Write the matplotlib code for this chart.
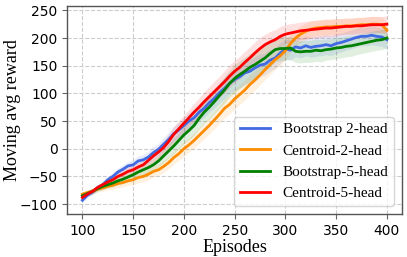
import matplotlib
matplotlib.use('Agg')
import matplotlib.pyplot as plt
import numpy as np

episodes = list(range(100, 401, 5))

boot2 = [-93, -84, -78, -70, -65, -56, -50, -42, -37, -31,
         -29, -22, -20, -15, -7, -1, 8, 17, 27, 34,
         42, 50, 56, 66, 73, 83, 91, 101, 109, 118,
         125, 130, 137, 140, 146, 151, 153, 160, 164, 173,
         180, 178, 184, 182, 186, 183, 185, 186, 188, 186,
         190, 192, 195, 198, 201, 203, 203, 205, 203, 202,
         197]
cent2 = [-82, -79, -76, -73, -71, -68, -66, -63, -61, -58,
         -56, -52, -50, -46, -41, -38, -32, -25, -16, -9,
         0, 7, 15, 24, 33, 42, 52, 62, 73, 80,
         90, 98, 106, 116, 124, 133, 143, 152, 161, 168,
         177, 190, 200, 207, 212, 216, 218, 219, 220, 220,
         221, 221, 222, 222, 223, 224, 224, 225, 225, 224,
         214]
boot5 = [-85, -81, -77, -72, -68, -65, -62, -58, -55, -51,
         -47, -42, -38, -34, -29, -22, -13, -4, 5, 15,
         25, 33, 42, 55, 66, 75, 85, 96, 106, 118,
         127, 134, 140, 147, 152, 158, 164, 172, 179, 181,
         181, 182, 176, 175, 176, 176, 178, 177, 179, 180,
         182, 183, 185, 186, 188, 190, 192, 194, 196, 197,
         200]
cent5 = [-88, -82, -77, -70, -65, -60, -56, -50, -46, -41,
         -38, -33, -29, -21, -13, -6, 2, 13, 26, 36,
         46, 56, 66, 75, 85, 94, 103, 112, 121, 131,
         140, 147, 156, 164, 173, 181, 188, 193, 197, 203,
         207, 209, 211, 213, 214, 215, 216, 217, 218, 218,
         219, 220, 221, 221, 222, 222, 223, 224, 224, 224,
         225]

boot2_std = [4, 4, 5, 5, 6, 6, 7, 7, 8, 8,
             9, 9, 10, 10, 11, 11, 12, 13, 14, 14,
             15, 15, 16, 16, 17, 17, 18, 18, 19, 19,
             20, 20, 20, 20, 20, 20, 20, 20, 19, 19,
             18, 18, 18, 18, 18, 18, 18, 18, 18, 18,
             18, 17, 17, 17, 17, 17, 17, 17, 17, 17,
             17]
cent2_std = [4, 4, 5, 5, 6, 6, 7, 7, 8, 8,
             9, 9, 10, 10, 10, 10, 11, 11, 12, 12,
             13, 13, 14, 14, 15, 15, 16, 16, 17, 17,
             18, 18, 18, 18, 18, 18, 18, 18, 17, 17,
             16, 16, 15, 15, 15, 15, 14, 14, 14, 14,
             14, 14, 14, 14, 14, 14, 14, 14, 14, 14,
             14]
boot5_std = [4, 4, 5, 5, 6, 6, 7, 7, 8, 8,
             9, 9, 10, 10, 11, 11, 12, 13, 14, 15,
             16, 17, 18, 19, 20, 21, 22, 23, 24, 24,
             25, 25, 25, 25, 24, 24, 23, 23, 22, 22,
             21, 21, 20, 20, 20, 20, 20, 20, 19, 19,
             19, 19, 19, 19, 18, 18, 18, 18, 18, 18,
             18]
cent5_std = [4, 4, 5, 5, 6, 6, 7, 7, 8, 8,
             9, 9, 10, 10, 11, 11, 12, 13, 14, 14,
             15, 15, 16, 17, 18, 18, 19, 19, 20, 20,
             20, 20, 20, 20, 20, 20, 19, 19, 18, 18,
             17, 17, 16, 16, 16, 16, 16, 16, 16, 16,
             16, 15, 15, 15, 15, 15, 15, 15, 15, 15,
             15]

series = [
    ('Bootstrap 2-head', boot2, boot2_std, '#4169e1'),
    ('Centroid-2-head', cent2, cent2_std, 'darkorange'),
    ('Bootstrap-5-head', boot5, boot5_std, 'green'),
    ('Centroid-5-head', cent5, cent5_std, 'red'),
]

serif = 'Liberation Serif'

fig = plt.figure(figsize=(4.07, 2.57), dpi=100)
ax = fig.add_axes([0.165, 0.167, 0.823, 0.81])
ax.set_axisbelow(True)

x = np.array(episodes)
for label, mean, std, color in series:
    m = np.array(mean, dtype=float)
    s = np.array(std, dtype=float)
    ax.fill_between(x, m - s, m + s, color=color, alpha=0.12, linewidth=0)
    ax.plot(x, m, color=color, linewidth=2, label=label)

ax.set_xlim(85, 415)
ax.set_ylim(-118, 258)
ax.set_xticks([100, 150, 200, 250, 300, 350, 400])
ax.set_yticks([-100, -50, 0, 50, 100, 150, 200, 250])
ax.tick_params(labelsize=10, length=3.5, color='#666666')

ax.set_xlabel('Episodes', fontsize=13, family=serif, labelpad=1)
ax.set_ylabel('Moving avg reward', fontsize=13, family=serif, labelpad=-1)

for sp in ax.spines.values():
    sp.set_color('#555555')
    sp.set_linewidth(1.0)

ax.grid(color='#cccccc', linestyle='--', linewidth=0.8)

leg = ax.legend(loc='lower right', prop={'family': serif, 'size': 11},
                frameon=True, fancybox=True, borderaxespad=0.5)
leg.get_frame().set_edgecolor('#cccccc')

plt.savefig('out.png', dpi=100)
